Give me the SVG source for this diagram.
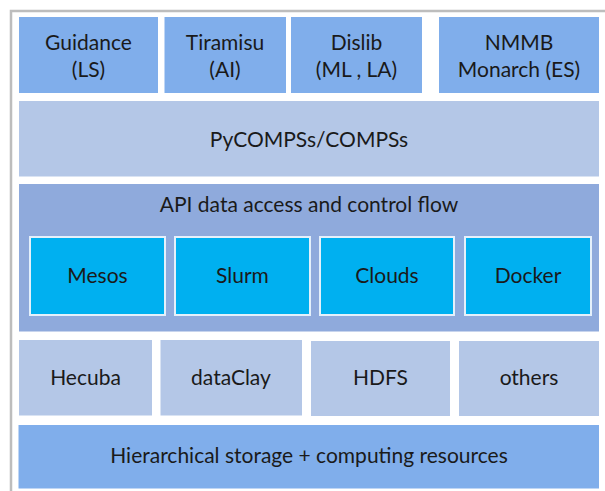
<svg xmlns="http://www.w3.org/2000/svg" width="605" height="491" viewBox="0 0 605 491">
<style>
text{font-family:Lato,"Liberation Sans",Arial,sans-serif;font-size:21px;fill:#1a1a1a;text-anchor:middle}
.app{fill:#80AEEB}
.mid{fill:#B4C7E7}
.api{fill:#8FAADC}
.rm{fill:#00B0F0;stroke:#E4F0FB;stroke-width:2}
.st{fill:#B4C7E7}
.hw{fill:#80AEEB}
</style>
<rect width="605" height="491" fill="#ffffff"/>
<rect x="11" y="11" width="600" height="490" fill="#ffffff" stroke="#bdbdbd" stroke-width="2.5"/>
<g id="guidance"><rect class="app" x="19" y="17" width="139" height="76"/><text x="88.5" y="50">Guidance</text><text x="88.5" y="77">(LS)</text></g>
<g id="tiramisu"><rect class="app" x="164.5" y="17" width="121.5" height="76"/><text x="225" y="50">Tiramisu</text><text x="225" y="77">(AI)</text></g>
<g id="dislib"><rect class="app" x="291" y="17" width="131" height="76"/><text x="356.5" y="50">Dislib</text><text x="356.5" y="77">(ML , LA)</text></g>
<g id="nmmb"><rect class="app" x="439" y="17" width="160" height="76"/><text x="519" y="50">NMMB</text><text x="519" y="77">Monarch (ES)</text></g>
<g id="pycompss"><rect class="mid" x="19" y="101" width="580" height="75.5"/><text x="309" y="147">PyCOMPSs/COMPSs</text></g>
<g id="api"><rect class="api" x="19" y="184" width="580" height="147.5"/><text x="309" y="212">API data access and control flow</text></g>
<g id="mesos"><rect class="rm" x="30" y="237" width="135" height="78"/><text x="97.5" y="283">Mesos</text></g>
<g id="slurm"><rect class="rm" x="175" y="237" width="135" height="78"/><text x="242.5" y="283">Slurm</text></g>
<g id="clouds"><rect class="rm" x="320" y="237" width="134" height="78"/><text x="387" y="283">Clouds</text></g>
<g id="docker"><rect class="rm" x="465" y="237" width="126" height="78"/><text x="528" y="283">Docker</text></g>
<g id="hecuba"><rect class="st" x="19" y="340" width="133" height="75.5"/><text x="85.5" y="385">Hecuba</text></g>
<g id="dataclay"><rect class="st" x="160.5" y="340" width="141.5" height="75.5"/><text x="231" y="385">dataClay</text></g>
<g id="hdfs"><rect class="st" x="311" y="341" width="139" height="75"/><text x="380.5" y="385">HDFS</text></g>
<g id="others"><rect class="st" x="459" y="341" width="140" height="75"/><text x="529" y="385">others</text></g>
<g id="hierarchical"><rect class="hw" x="18.5" y="425" width="580.5" height="63.5"/><text x="309" y="463">Hierarchical storage + computing resources</text></g>
<g id="connectors"></g>
</svg>
